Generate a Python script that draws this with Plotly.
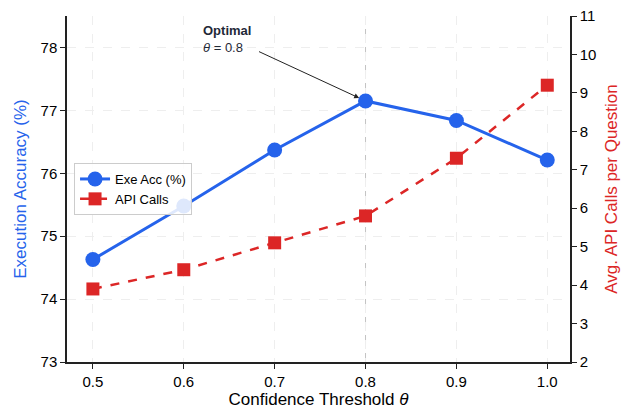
import plotly.graph_objects as go

thresholds = [0.5, 0.6, 0.7, 0.8, 0.9, 1.0]
exe_acc = [74.63, 75.48, 76.37, 77.15, 76.84, 76.21]
api_calls = [3.9, 4.4, 5.1, 5.8, 7.3, 9.2]
x_ticks = [0.5, 0.6, 0.7, 0.8, 0.9, 1.0]
x_ticklabels = ["0.5", "0.6", "0.7", "0.8", "0.9", "1.0"]
left_ticks = [73, 74, 75, 76, 77, 78]
right_ticks = [2, 3, 4, 5, 6, 7, 8, 9, 10, 11]
optimal = 0.8

BLUE = "#2563EB"
RED = "#DC2626"
FONT = "Liberation Sans, Arial, sans-serif"

fig = go.Figure()
fig.add_trace(go.Scatter(
    x=thresholds, y=exe_acc, name="Exe Acc (%)", mode="lines+markers",
    line=dict(color=BLUE, width=3), marker=dict(symbol="circle", size=15, color=BLUE),
    yaxis="y"))
fig.add_trace(go.Scatter(
    x=thresholds, y=api_calls, name="API Calls", mode="lines+markers",
    line=dict(color=RED, width=2.5, dash="dash"),
    marker=dict(symbol="square", size=13, color=RED),
    yaxis="y2"))

fig.add_shape(type="line", x0=optimal, x1=optimal, y0=0, y1=1, xref="x", yref="paper",
              line=dict(color="#C4C4C4", width=1, dash="dash"), layer="below")

# arrow
fig.add_annotation(
    x=optimal, y=exe_acc[thresholds.index(optimal)], xref="x", yref="y",
    text="", showarrow=True, arrowhead=2, arrowsize=1,
    arrowwidth=1, arrowcolor="#222222", ax=-108, ay=-50, standoff=7)
# label
fig.add_annotation(
    x=0.266, y=0.985, xref="paper", yref="paper", showarrow=False,
    text="<b>Optimal</b><br><i>θ</i> = 0.8", align="left",
    xanchor="left", yanchor="top",
    font=dict(family=FONT, size=13, color="#1f2937"))

grid = dict(showgrid=True, gridcolor="#EEEEEE", griddash="dash", gridwidth=1)

fig.update_layout(
    width=636, height=416,
    margin=dict(l=59, r=74, t=8, b=62, autoexpand=False),
    paper_bgcolor="white", plot_bgcolor="white",
    font=dict(family=FONT, size=15, color="black"),
    showlegend=True,
    legend=dict(x=0.014, y=0.5, xanchor="left", yanchor="middle",
                bordercolor="#CCCCCC", borderwidth=1, bgcolor="rgba(255,255,255,0.85)",
                font=dict(size=13)),
    xaxis=dict(range=[0.4715, 1.025], tickvals=x_ticks, ticktext=x_ticklabels,
               title=dict(text="Confidence Threshold <i>θ</i>", font=dict(size=17), standoff=4),
               showline=True, linecolor="#222222", linewidth=1.5, ticks="outside",
               ticklen=5, tickcolor="#222222", zeroline=False, **grid),
    yaxis=dict(range=[73, 78.5], tickvals=left_ticks,
               title=dict(text="Execution Accuracy (%)", font=dict(size=17, color=BLUE), standoff=10),
               showline=True, linecolor="#222222", linewidth=1.5, ticks="outside",
               ticklen=5, tickcolor="#222222", zeroline=False, **grid),
    yaxis2=dict(range=[2, 11], tickvals=right_ticks, overlaying="y", side="right",
                title=dict(text="Avg. API Calls per Question", font=dict(size=17, color=RED), standoff=10),
                showline=True, linecolor="#222222", linewidth=1.5, ticks="outside",
                ticklen=5, tickcolor="#222222", zeroline=False, showgrid=False,
                ticklabeloverflow="allow"),
)

fig.write_html("out.html")
